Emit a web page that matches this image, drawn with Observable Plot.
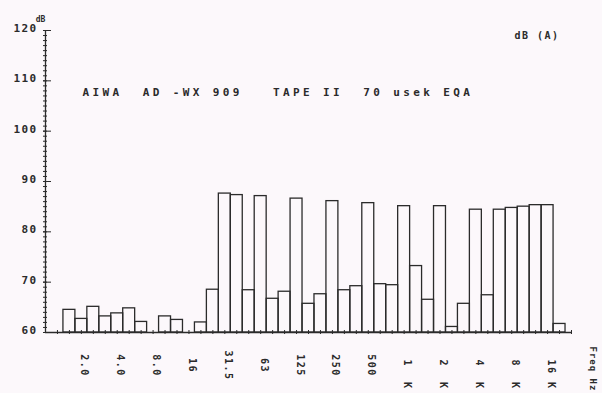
<!DOCTYPE html>
<html><head><meta charset="utf-8">
<script src="https://cdn.jsdelivr.net/npm/d3@7"></script>
<script src="https://cdn.jsdelivr.net/npm/@observablehq/plot@0.6"></script>
<style>
html,body{margin:0;padding:0;background:#fcf8fb;}
#chart svg{display:block;background:#fcf8fb;}
</style></head><body><div id="chart"></div>
<script>
// band slot index (1/3-octave bands, left to right)
const bandSlots = [1,2,3,4,5,6,7,8,9,10,11,12,13,14,15,16,17,18,19,20,21,22,23,24,25,26,27,28,29,30,31,32,33,34,35,36,37,38,39,40,41,42];
// level in dB(A) per band (null = no bar)
const levels = [64.5,62.7,65.1,63.2,63.8,64.8,62.1,null,63.2,62.5,null,62.0,68.5,87.6,87.3,68.4,87.1,66.7,68.1,86.6,65.7,67.6,86.1,68.4,69.2,85.7,69.6,69.4,85.1,73.2,66.5,85.1,61.1,65.7,84.4,67.4,84.4,84.75,85.0,85.3,85.3,61.7];
// frequency tick labels and their band slots
const tickSlots = [2,5,8,11,14,17,20,23,26];
const tickLabels = ["2.0","4.0","8.0","16","31.5","63","125","250","500"];
const tickSlotsK = [29,32,35,38,41];
const tickLabelsK = ["1  K","2  K","4  K","8  K","16 K"];
const yTicks = [60,70,80,90,100,110,120];
const yMinor = d3.range(60,121);
const xTickSlots = d3.range(0,44);
const titleText = "AIWA  AD -WX 909   TAPE II  70 usek EQA";
const unitText = "dB (A)";
const xTitle = "Freq Hz";

const bars = bandSlots.map((s,i)=>({slot:s, level:levels[i]})).filter(d=>d.level!=null);
const ink = "#2b2b2b";
const font = "DejaVu Sans Mono";

const chart = Plot.plot({
  width: 602, height: 393,
  marginLeft: 45, marginRight: 31, marginTop: 30, marginBottom: 61,
  style: {background: "#fcf8fb", color: ink, fontFamily: font},
  x: {domain: [-1, 43], axis: null},
  y: {domain: [60, 120], axis: null},
  marks: [
    Plot.rect(bars, {x1: d=>d.slot-0.5, x2: d=>d.slot+0.5, y1: d=>60, y2: "level", fill: "none", stroke: ink, strokeWidth: 1.3}),
    Plot.ruleX([-1], {stroke: ink, strokeWidth: 1.3}),
    Plot.ruleY([60], {stroke: ink, strokeWidth: 1.3}),
    Plot.axisY(yMinor, {anchor: "left", tickSize: 4, dx: 2, tickFormat: ()=>"", stroke: ink, label: null}),
    Plot.axisY(yTicks, {anchor: "left", tickSize: 8, dx: 6, tickFormat: ()=>"", stroke: ink, label: null}),
    Plot.axisY(yTicks, {anchor: "left", tickSize: 0, tickPadding: 8, dy: -2, fontSize: 11, fontWeight: "bold", label: null}),
    Plot.axisX(xTickSlots, {anchor: "bottom", tickSize: 4, dy: -2, tickFormat: ()=>"", stroke: ink, label: null}),
    Plot.text(tickLabels, {x: (d,i)=>tickSlots[i], text: d=>d, frameAnchor: "bottom", dy: 33, rotate: 90, textAnchor: "middle", fontSize: 10, fontWeight: "bold", fill: ink}),
    Plot.text(tickLabelsK, {x: (d,i)=>tickSlotsK[i], text: d=>d, frameAnchor: "bottom", dy: 42, rotate: 90, textAnchor: "middle", fontSize: 10, fontWeight: "bold", fill: ink}),
    Plot.text([titleText], {frameAnchor: "top-left", dx: 37, dy: 58, textAnchor: "start", fontSize: 11, fontWeight: "bold", fill: ink}),
    Plot.text([unitText], {frameAnchor: "top-right", dx: -12, dy: 1, textAnchor: "end", fontSize: 10, fontWeight: "bold", fill: ink}),
    Plot.text(["dB"], {frameAnchor: "top-left", dx: -5, dy: -14, textAnchor: "middle", fontSize: 8, fontWeight: "bold", fill: ink}),
    Plot.text([xTitle], {frameAnchor: "bottom-right", dx: 18, dy: 14, rotate: 90, textAnchor: "start", fontSize: 9, fontWeight: "bold", fill: ink})
  ]
});
document.getElementById("chart").appendChild(chart);
const yStr = yTicks.map(String);
d3.select(chart).selectAll("text").each(function() {
  const t = this.textContent;
  let ls = null;
  if (t === titleText) ls = "3.4px";
  else if (t === unitText) ls = "1.5px";
  else if (t === xTitle) ls = "1px";
  else if (yStr.includes(t)) ls = "1.4px";
  else if (tickLabels.includes(t) || tickLabelsK.includes(t)) ls = "1.5px";
  if (ls) this.style.letterSpacing = ls;
});
</script>
</body></html>
